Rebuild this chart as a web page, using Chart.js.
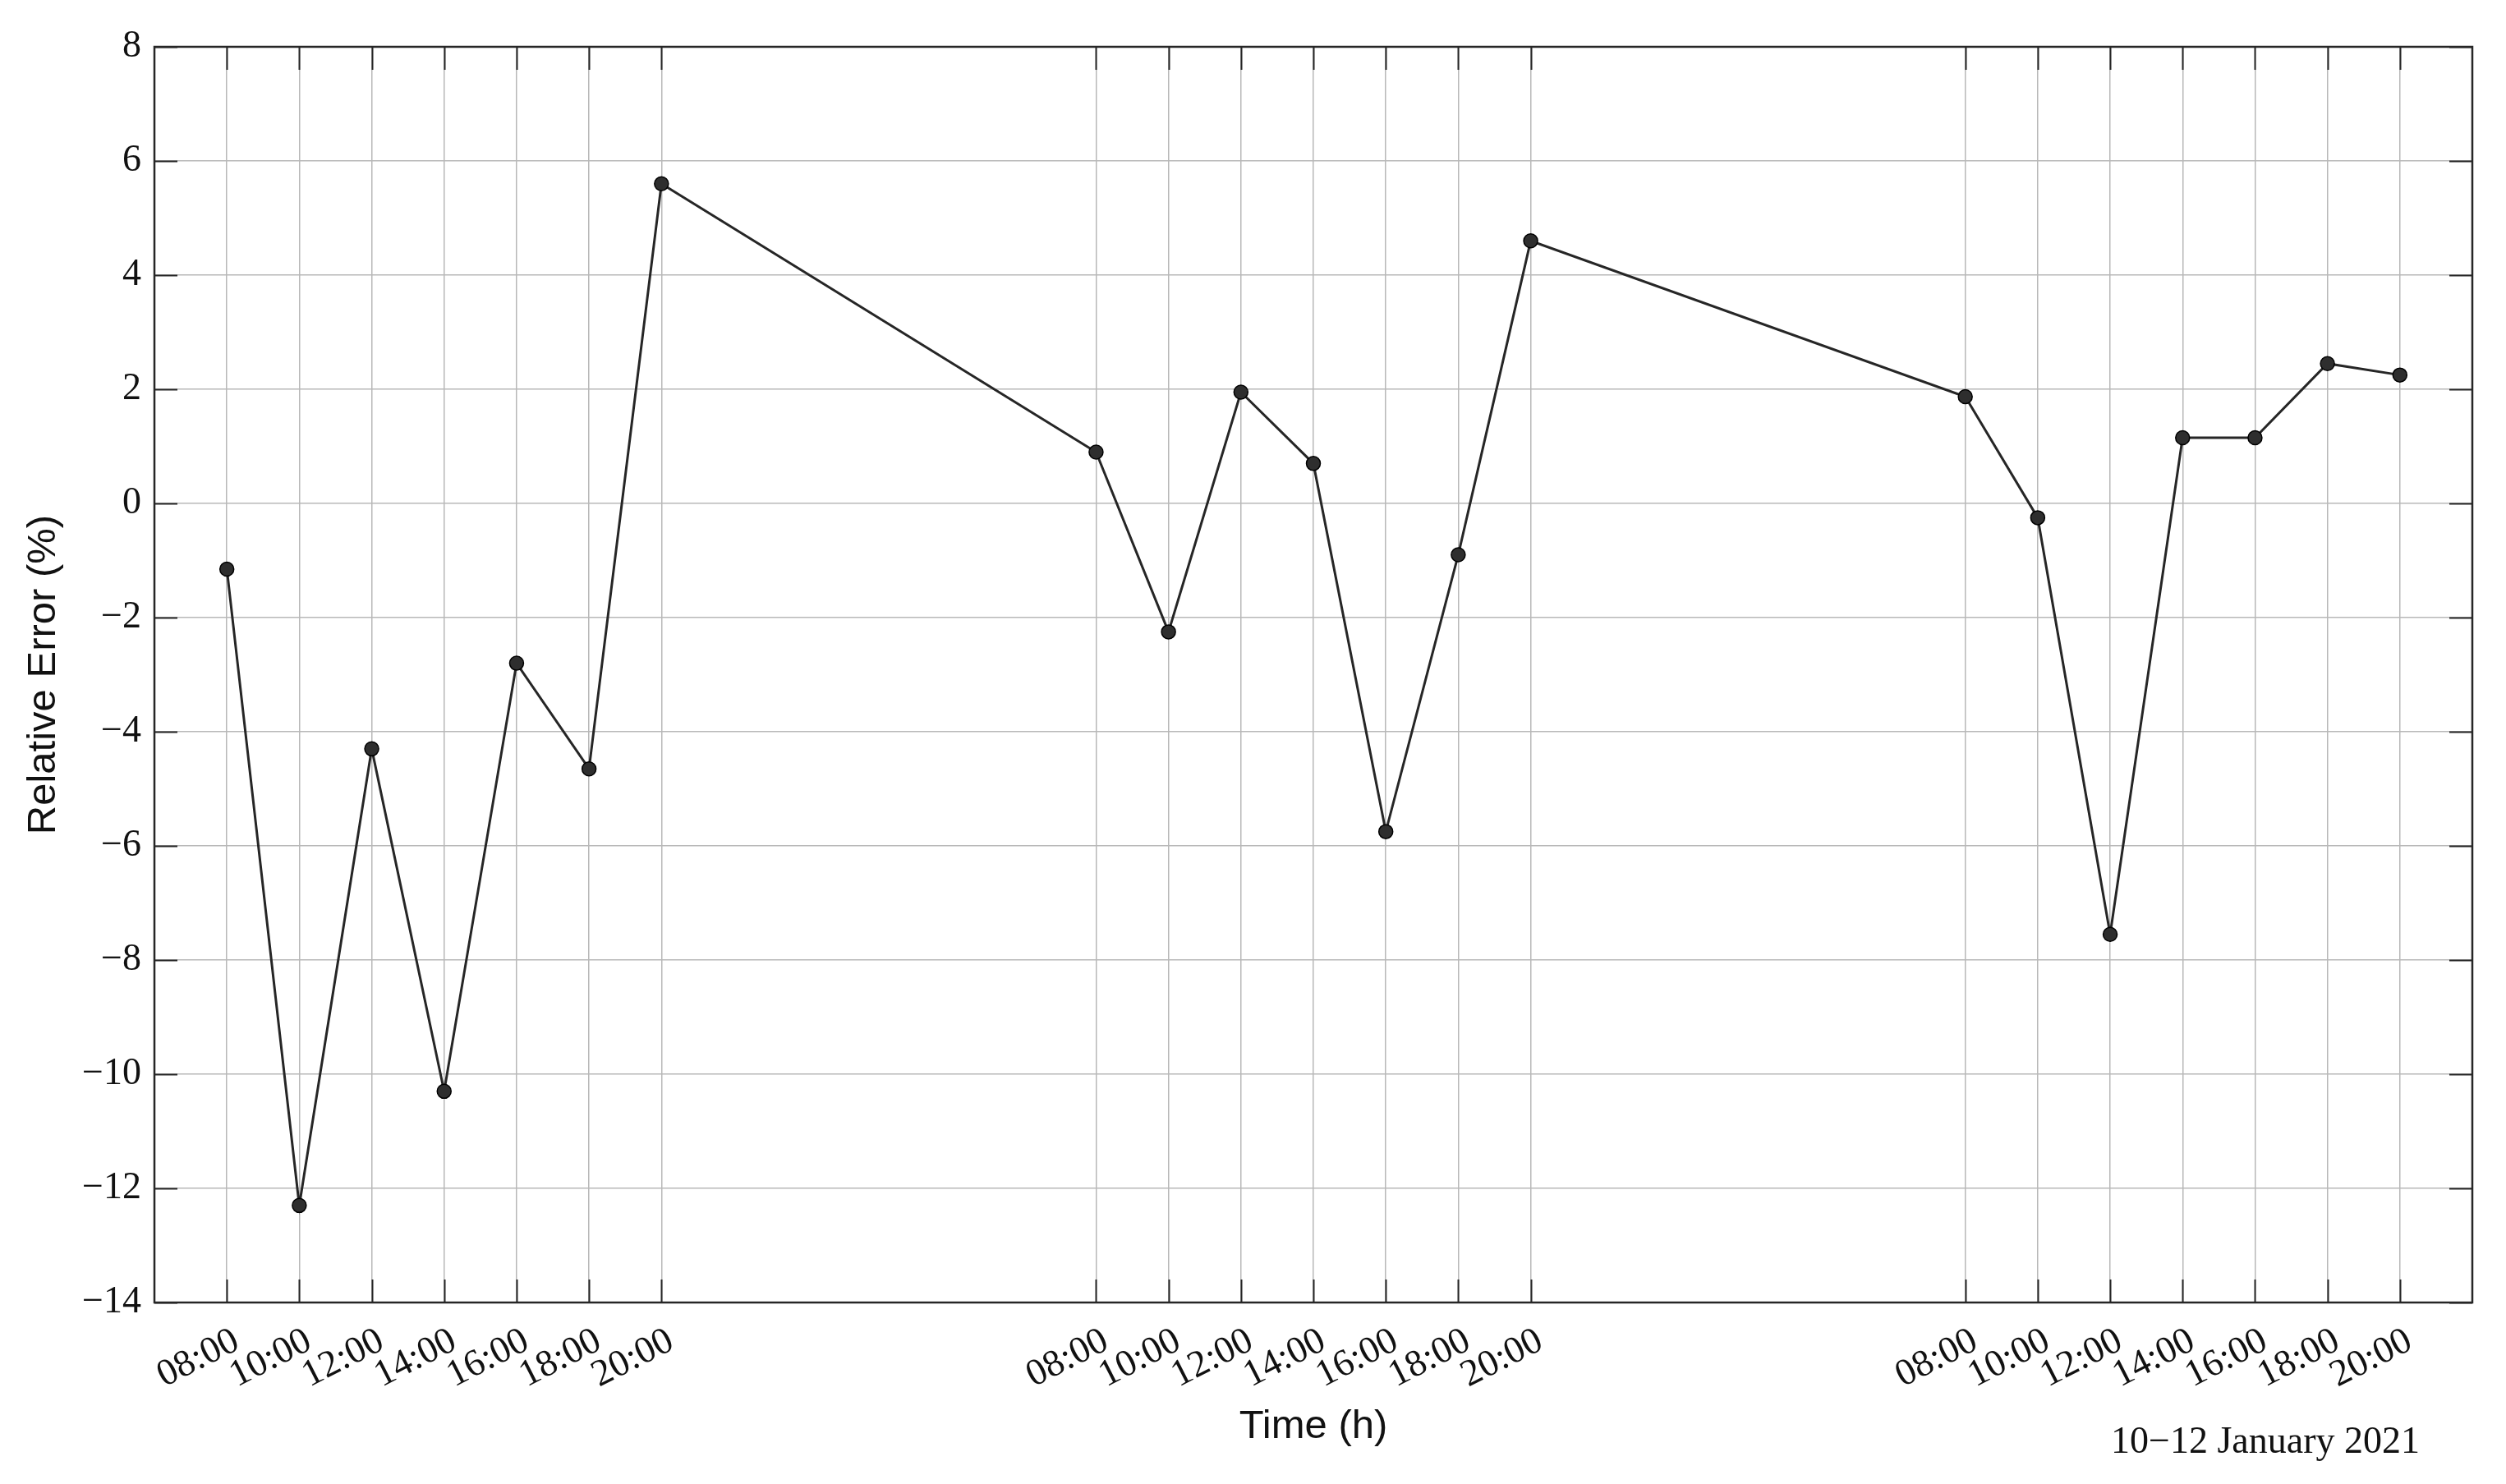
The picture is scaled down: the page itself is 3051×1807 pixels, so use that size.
<!DOCTYPE html>
<html><head><meta charset="utf-8">
<script src="https://cdn.jsdelivr.net/npm/chart.js@4/dist/chart.umd.min.js"></script>
<style>html,body{margin:0;padding:0;background:#fff;}canvas{display:block;}</style>
</head><body>
<canvas id="c" width="3051" height="1807"></canvas>
<script>
// Time in hours since 10 January 2021 00:00
const timeHours = [8,10,12,14,16,18,20, 32,34,36,38,40,42,44, 56,58,60,62,64,66,68];
const relativeError = [-1.15,-12.3,-4.3,-10.3,-2.8,-4.65,5.6, 0.9,-2.25,1.95,0.7,-5.75,-0.9,4.6, 1.87,-0.25,-7.55,1.15,1.15,2.45,2.25];
const xTickValues = [8,10,12,14,16,18,20, 32,34,36,38,40,42,44, 56,58,60,62,64,66,68];
const xTickLabels = ['08:00','10:00','12:00','14:00','16:00','18:00','20:00','08:00','10:00','12:00','14:00','16:00','18:00','20:00','08:00','10:00','12:00','14:00','16:00','18:00','20:00'];
const yTickValues = [-14,-12,-10,-8,-6,-4,-2,0,2,4,6,8];
const xTitle = 'Time (h)';
const yTitle = 'Relative Error (%)';
const dateNote = '10\u221212 January 2021';

const AXIS = '#262626';
const GRID = '#b8b8b8';
const W = 3051, H = 1807;
const PLOT = {left:188, right:3010, top:57, bottom:1586};

const framePlugin = {
  id:'frame',
  beforeDatasetsDraw(chart){
    const {ctx, chartArea:a, scales:{x,y}} = chart;
    ctx.save();
    ctx.strokeStyle = AXIS; ctx.lineWidth = 2;
    const L = 28;
    ctx.beginPath();
    xTickValues.forEach(v=>{
      const px = Math.round(x.getPixelForValue(v))+0.5;
      ctx.moveTo(px,a.bottom); ctx.lineTo(px,a.bottom-L);
      ctx.moveTo(px,a.top); ctx.lineTo(px,a.top+L);
    });
    yTickValues.forEach(v=>{
      const py = Math.round(y.getPixelForValue(v))+0.5;
      ctx.moveTo(a.left,py); ctx.lineTo(a.left+L,py);
      ctx.moveTo(a.right,py); ctx.lineTo(a.right-L,py);
    });
    ctx.stroke();
    ctx.lineWidth = 2.5;
    ctx.strokeRect(a.left, a.top, a.right-a.left, a.bottom-a.top);
    ctx.restore();
  },
  afterDraw(chart){
    const ctx = chart.ctx;
    ctx.save();
    ctx.fillStyle = '#111';
    ctx.font = '46px "Liberation Serif"';
    ctx.textAlign = 'right';
    ctx.textBaseline = 'alphabetic';
    ctx.fillText(dateNote, 2946, 1769);
    ctx.restore();
  }
};

new Chart(document.getElementById('c'), {
  type:'line',
  data:{
    datasets:[{
      data: timeHours.map((t,i)=>({x:t, y:relativeError[i]})),
      borderColor:'#262626',
      borderWidth:3,
      pointRadius:8.5,
      pointBackgroundColor:'#2e2e2e',
      pointBorderColor:'#000',
      pointBorderWidth:1.5,
      tension:0,
      fill:false
    }]
  },
  options:{
    responsive:false,
    animation:false,
    devicePixelRatio:1,
    layout:{padding:{left:0,right:W-PLOT.right,top:PLOT.top,bottom:0}},
    plugins:{legend:{display:false},tooltip:{enabled:false}},
    scales:{
      x:{
        type:'linear', min:6, max:70,
        afterBuildTicks(s){ s.ticks = xTickValues.map(v=>({value:v})); },
        afterFit(s){ s.height = H-PLOT.bottom; },
        ticks:{
          autoSkip:false, minRotation:27, maxRotation:27,
          padding:20, labelOffset:12,
          color:'#111',
          font:{family:'"Liberation Serif"', size:46},
          callback:(v)=>xTickLabels[xTickValues.indexOf(v)]
        },
        grid:{color:GRID, lineWidth:1.5, drawTicks:false},
        border:{display:false},
        title:{display:true, text:xTitle, color:'#111',
          font:{family:'"Liberation Sans"', size:49}, padding:{top:0,bottom:40}}
      },
      y:{
        min:-14, max:8,
        afterBuildTicks(s){ s.ticks = yTickValues.map(v=>({value:v})); },
        afterFit(s){ s.width = PLOT.left; },
        ticks:{
          padding:16, color:'#111',
          font:{family:'"Liberation Serif"', size:46},
          callback:(v)=> v<0 ? '\u2212'+Math.abs(v) : String(v)
        },
        grid:{color:GRID, lineWidth:1.5, drawTicks:false},
        border:{display:false},
        title:{display:true, text:yTitle, color:'#111',
          font:{family:'"Liberation Sans"', size:49}, padding:{top:24,bottom:0}}
      }
    }
  },
  plugins:[framePlugin]
});
</script>
</body></html>
